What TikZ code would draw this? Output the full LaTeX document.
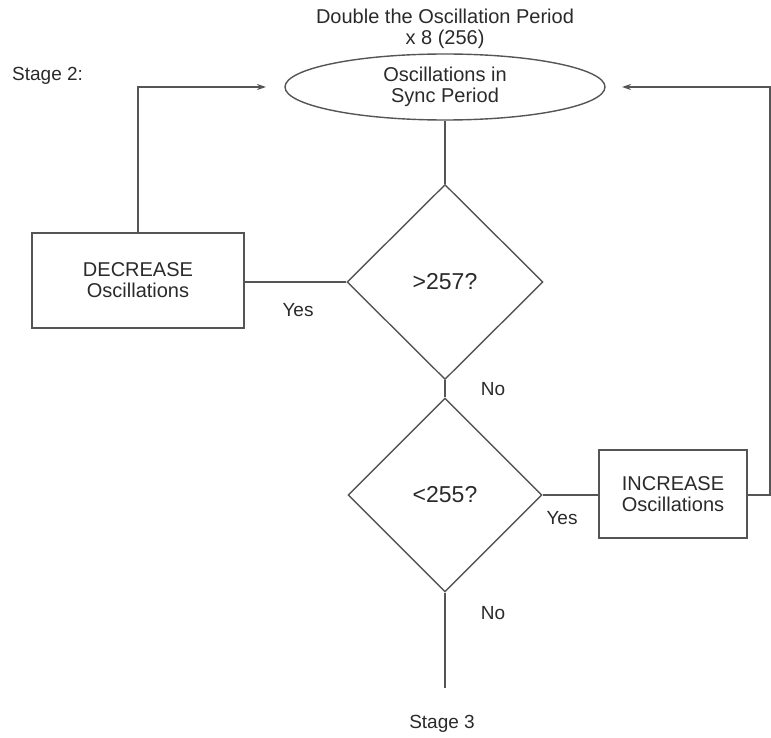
\documentclass[tikz,border=0pt]{standalone}
\usepackage{fontspec}
\setmainfont{Liberation Sans}
\usetikzlibrary{shapes.geometric,arrows.meta}
\definecolor{ln}{HTML}{555555}
\definecolor{tx}{HTML}{2A2A2A}
\begin{document}
\begin{tikzpicture}[x=1pt,y=-1pt,
  every node/.style={text=tx,font=\fontsize{20}{21}\selectfont,align=center,inner sep=0pt},
  conn/.style={draw=ln,line width=1.4pt},
  arr/.style={conn,-{Stealth[length=9pt,width=6pt]}},
  boxnode/.style={draw=ln,line width=1.4pt,rectangle},
  decide/.style={draw=ln,line width=1.4pt,diamond},
  lbl/.style={font=\fontsize{19}{21}\selectfont}]
\useasboundingbox (0,0) rectangle (771,738);
\node (title) at (445,29) {Double the Oscillation Period\\x 8 (256)};
\node[lbl,anchor=west] (stage2) at (12,76) {Stage 2:};
\node[draw=ln,line width=1.4pt,ellipse,minimum width=320pt,minimum height=66pt] (sync) at (445,87) {Oscillations in\\Sync Period};
\node[decide,minimum width=196pt,minimum height=195pt] (d1) at (445,282) {\fontsize{23}{24}\selectfont >257?};
\node[decide,minimum width=194pt,minimum height=194pt] (d2) at (445,495) {\fontsize{23}{24}\selectfont <255?};
\node[boxnode,minimum width=212pt,minimum height=95pt] (dec) at (138,280.5) {DECREASE\\Oscillations};
\node[boxnode,minimum width=148pt,minimum height=88pt] (inc) at (673,494) {INCREASE\\Oscillations};
\coordinate (la) at (266,87);
\coordinate (ra) at (622,87);
\coordinate (rc) at (770,87);
\coordinate (endpt) at (445,688);
\node[lbl] (yes1) at (298,310) {Yes};
\node[lbl] (no1) at (493,389) {No};
\node[lbl] (yes2) at (562,518) {Yes};
\node[lbl] (no2) at (493,613) {No};
\node[lbl] (stage3) at (442,724) {Stage 3};
\draw[conn] (sync.south) -- (d1.north);
\draw[conn] (d1.south) -- (d2.north);
\draw[conn] (d1.west) -- (dec.east |- d1.west);
\draw[arr] (dec.north) -- (dec.north |- la) -- (la);
\draw[conn] (d2.east) -- (inc.west |- d2.east);
\draw[arr] (inc.east |- d2.east) -- (rc |- d2.east) -- (rc) -- (ra);
\draw[conn] (d2.south) -- (endpt);
\end{tikzpicture}
\end{document}
